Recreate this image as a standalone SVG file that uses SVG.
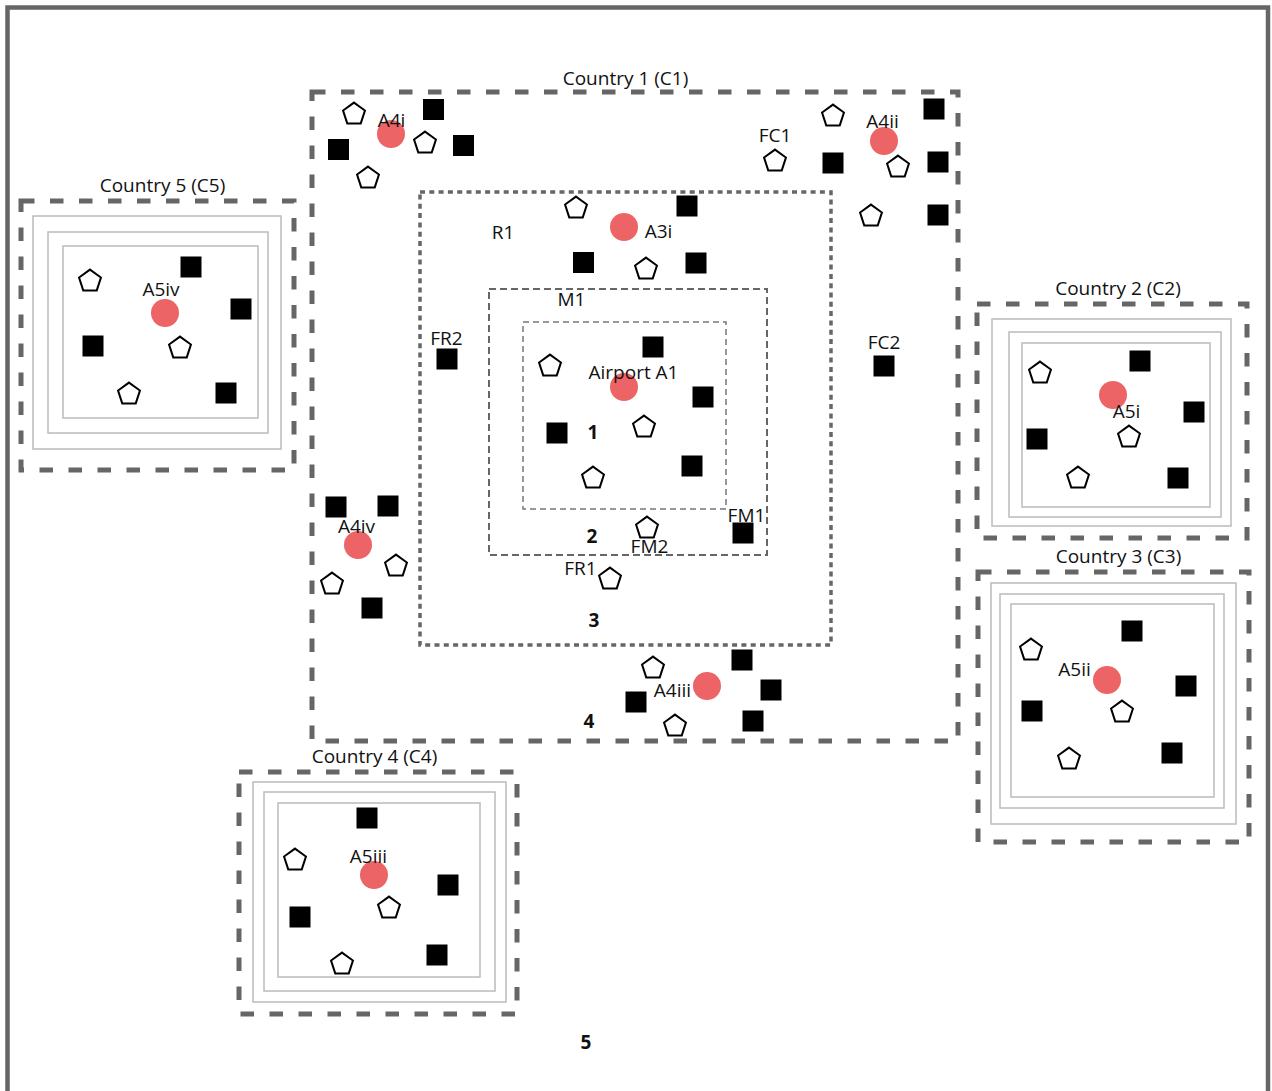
<svg xmlns="http://www.w3.org/2000/svg" xmlns:xlink="http://www.w3.org/1999/xlink" width="1272" height="1091" viewBox="0 0 1272 1091">
<style>
text{font-family:"Open Sans","Liberation Sans",sans-serif;font-size:19px;fill:#111;text-anchor:middle}
.num{font-weight:bold}
.cty{fill:none;stroke:#666;stroke-width:5;stroke-dasharray:13.5 15.5}
.r1{fill:none;stroke:#666;stroke-width:3.5;stroke-dasharray:5 4.3}
.m1{fill:none;stroke:#666;stroke-width:2;stroke-dasharray:7 4}
.z1{fill:none;stroke:#777;stroke-width:1.5;stroke-dasharray:6 4}
.ring{fill:none;stroke:#bbb;stroke-width:1.5}
.air{fill:#ED6466}
</style>
<defs>
<rect id="sq" x="-10.5" y="-10.5" width="21" height="21" fill="#000"/>
<polygon id="pg" points="0,-10.4 10.94,-2.45 6.76,10.4 -6.76,10.4 -10.94,-2.45" fill="#fff" stroke="#000" stroke-width="2" stroke-linejoin="miter"/>
</defs>
<rect width="1272" height="1091" fill="#fff"/>
<rect id="frame" x="7.5" y="7.5" width="1260.5" height="1200" fill="none" stroke="#666" stroke-width="4.5"/>

<g id="country1">
<rect class="cty" x="312" y="92" width="646" height="649"/>
<rect class="r1" x="420" y="192" width="411" height="453"/>
<rect class="m1" x="489" y="289" width="278" height="266"/>
<rect class="z1" x="523" y="322" width="203" height="187"/>
<g id="A4i">
<use href="#pg" x="354" y="113"/>
<use href="#sq" x="433.5" y="109.5"/>
<use href="#sq" x="338.5" y="149.5"/>
<use href="#pg" x="425" y="142"/>
<use href="#sq" x="463.5" y="145.5"/>
<use href="#pg" x="368" y="177"/>
<circle class="air" cx="391" cy="134" r="14"/>
<text x="391.5" y="127">A4i</text>
</g>
<g id="A4ii">
<use href="#pg" x="775" y="160"/>
<use href="#pg" x="833" y="115"/>
<use href="#sq" x="833" y="163"/>
<use href="#sq" x="934" y="109"/>
<use href="#sq" x="938" y="162"/>
<use href="#sq" x="938" y="215"/>
<use href="#pg" x="871" y="215"/>
<circle class="air" cx="884" cy="141" r="14"/>
<use href="#pg" x="898" y="166"/>
<text x="775" y="142">FC1</text>
<text x="882.5" y="128">A4ii</text>
</g>
<g id="A3i">
<use href="#pg" x="576" y="207"/>
<use href="#sq" x="687" y="206"/>
<use href="#sq" x="583.5" y="262.5"/>
<use href="#pg" x="646" y="268"/>
<use href="#sq" x="696" y="263"/>
<circle class="air" cx="624" cy="227" r="14"/>
<text x="503" y="239">R1</text>
<text x="658.5" y="238">A3i</text>
</g>
<g id="FR2">
<use href="#sq" x="447" y="359"/>
<text x="446.5" y="345">FR2</text>
</g>
<g id="FC2">
<use href="#sq" x="884" y="366"/>
<text x="884" y="349">FC2</text>
</g>
<g id="A1">
<text x="571.5" y="306">M1</text>
<use href="#pg" x="550" y="365"/>
<use href="#sq" x="653" y="347"/>
<circle class="air" cx="624" cy="387" r="14"/>
<use href="#sq" x="703" y="397"/>
<use href="#sq" x="557" y="433"/>
<use href="#pg" x="644" y="426"/>
<use href="#sq" x="692" y="466"/>
<use href="#pg" x="593" y="477"/>
<text x="633.5" y="379">Airport A1</text>
<text class="num" x="593" y="439">1</text>
</g>
<g id="FM">
<use href="#pg" x="647" y="527"/>
<use href="#sq" x="743" y="533"/>
<text x="746.5" y="522">FM1</text>
<text x="649.5" y="553">FM2</text>
<text class="num" x="592" y="543">2</text>
</g>
<g id="FR1">
<use href="#pg" x="610" y="578"/>
<text x="580.5" y="575">FR1</text>
<text class="num" x="594" y="627">3</text>
</g>
<g id="A4iv">
<use href="#sq" x="336" y="507"/>
<use href="#sq" x="388" y="506"/>
<circle class="air" cx="358" cy="545" r="14"/>
<use href="#pg" x="396" y="565"/>
<use href="#pg" x="332" y="583"/>
<use href="#sq" x="372" y="608"/>
<text x="356.5" y="533">A4iv</text>
</g>
<g id="A4iii">
<use href="#pg" x="653" y="667"/>
<use href="#sq" x="742" y="660"/>
<circle class="air" cx="707" cy="686" r="14"/>
<use href="#sq" x="636" y="702"/>
<use href="#sq" x="771" y="690"/>
<use href="#sq" x="753" y="721"/>
<use href="#pg" x="675" y="725"/>
<text x="672.5" y="697">A4iii</text>
<text class="num" x="589" y="728">4</text>
</g>
<text x="625.5" y="85">Country 1 (C1)</text>
</g>

<g id="country5">
<rect class="cty" x="21" y="201" width="273" height="269"/>
<rect class="ring" x="33" y="216" width="248" height="233"/>
<rect class="ring" x="48" y="232" width="220" height="201"/>
<rect class="ring" x="63" y="246" width="195" height="172"/>
<use href="#pg" x="90" y="280"/>
<use href="#sq" x="191" y="267"/>
<circle class="air" cx="165" cy="313" r="14"/>
<use href="#sq" x="241" y="309"/>
<use href="#sq" x="93" y="346"/>
<use href="#pg" x="180" y="347"/>
<use href="#pg" x="129" y="393"/>
<use href="#sq" x="226" y="393"/>
<text x="161" y="296">A5iv</text>
<text x="162.5" y="192">Country 5 (C5)</text>
</g>

<g id="country2">
<rect class="cty" x="977" y="304" width="270" height="234"/>
<rect class="ring" x="992" y="319" width="239" height="207"/>
<rect class="ring" x="1009" y="332" width="212" height="185"/>
<rect class="ring" x="1022" y="343" width="188" height="164"/>
<use href="#pg" x="1040" y="372"/>
<use href="#sq" x="1140" y="361"/>
<circle class="air" cx="1113" cy="395" r="14"/>
<use href="#sq" x="1194" y="412"/>
<use href="#sq" x="1037" y="439"/>
<use href="#pg" x="1129" y="436"/>
<use href="#pg" x="1078" y="477"/>
<use href="#sq" x="1178" y="478"/>
<text x="1126.5" y="418">A5i</text>
<text x="1118" y="295">Country 2 (C2)</text>
</g>

<g id="country3">
<rect class="cty" x="978" y="572" width="271" height="270"/>
<rect class="ring" x="991" y="583" width="245" height="241"/>
<rect class="ring" x="1000" y="594" width="224" height="214"/>
<rect class="ring" x="1011" y="604" width="203" height="193"/>
<use href="#sq" x="1132" y="631"/>
<use href="#pg" x="1031" y="649"/>
<circle class="air" cx="1107" cy="680" r="14"/>
<use href="#sq" x="1186" y="686"/>
<use href="#sq" x="1032" y="711"/>
<use href="#pg" x="1122" y="711"/>
<use href="#pg" x="1069" y="758"/>
<use href="#sq" x="1172" y="753"/>
<text x="1074.5" y="676">A5ii</text>
<text x="1118.5" y="563">Country 3 (C3)</text>
</g>

<g id="country4">
<rect class="cty" x="239" y="772" width="278" height="242"/>
<rect class="ring" x="253" y="782" width="253" height="220"/>
<rect class="ring" x="264" y="792" width="231" height="199"/>
<rect class="ring" x="278" y="803" width="202" height="174"/>
<use href="#sq" x="367" y="818"/>
<use href="#pg" x="295" y="859"/>
<circle class="air" cx="374" cy="875" r="14"/>
<use href="#sq" x="448" y="885"/>
<use href="#sq" x="300" y="917"/>
<use href="#pg" x="389" y="907"/>
<use href="#pg" x="342" y="963"/>
<use href="#sq" x="437" y="955"/>
<text x="368.5" y="863">A5iii</text>
<text x="374.5" y="763">Country 4 (C4)</text>
</g>

<g id="connectors"></g>
<text class="num" x="586" y="1049">5</text>
</svg>
